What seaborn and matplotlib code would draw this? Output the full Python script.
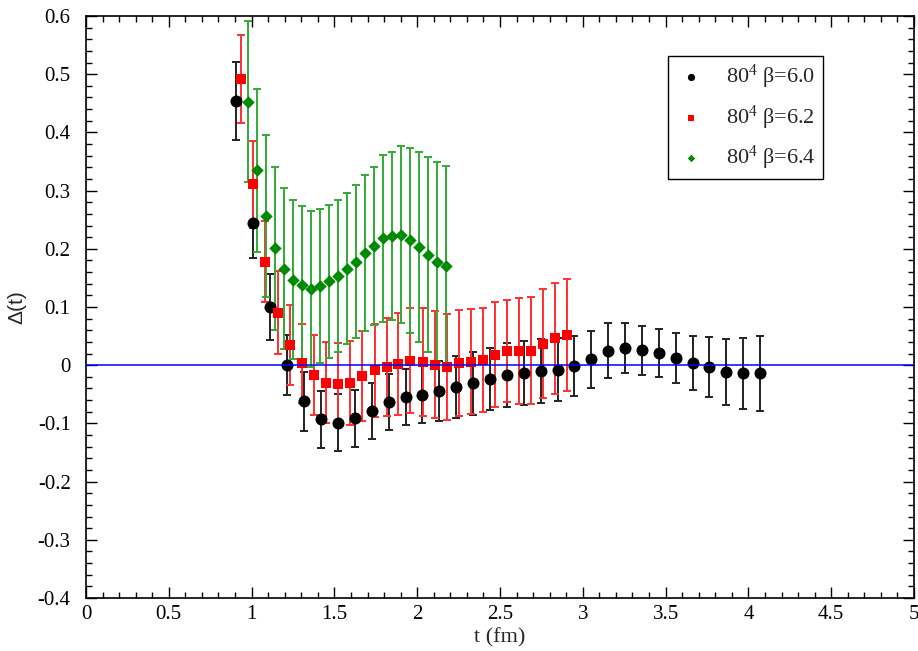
import matplotlib
matplotlib.use("Agg")
import matplotlib.pyplot as plt
import seaborn as sns
import pandas as pd
from matplotlib.ticker import MultipleLocator, FuncFormatter

# ---- data ----
t_60 = [0.906, 1.010, 1.111, 1.214, 1.318, 1.419, 1.522, 1.624, 1.725, 1.828, 1.930,
        2.031, 2.133, 2.234, 2.337, 2.440, 2.542, 2.645, 2.746, 2.849, 2.949, 3.052,
        3.152, 3.255, 3.357, 3.460, 3.563, 3.663, 3.763, 3.866, 3.967, 4.070]
d_60 = [0.454, 0.245, 0.100, 0.000, -0.062, -0.093, -0.099, -0.091, -0.079, -0.063, -0.055,
        -0.051, -0.044, -0.038, -0.031, -0.024, -0.016, -0.013, -0.010, -0.008, -0.001, 0.010,
        0.025, 0.030, 0.026, 0.021, 0.013, 0.004, -0.003, -0.012, -0.014, -0.014]
e_60 = [0.067, 0.060, 0.057, 0.052, 0.051, 0.049, 0.049, 0.049, 0.048, 0.048, 0.048,
        0.049, 0.052, 0.053, 0.054, 0.053, 0.055, 0.055, 0.055, 0.054, 0.052, 0.049,
        0.047, 0.043, 0.042, 0.041, 0.043, 0.046, 0.051, 0.057, 0.061, 0.064]

t_62 = [0.938, 1.010, 1.083, 1.159, 1.230, 1.304, 1.377, 1.449, 1.522, 1.596, 1.669,
        1.743, 1.816, 1.886, 1.958, 2.033, 2.106, 2.178, 2.252, 2.325, 2.396, 2.470,
        2.544, 2.617, 2.689, 2.762, 2.834, 2.906]
d_62 = [0.492, 0.311, 0.178, 0.090, 0.035, 0.003, -0.017, -0.030, -0.033, -0.030, -0.019,
        -0.009, -0.003, 0.002, 0.008, 0.006, 0.001, -0.003, 0.003, 0.006, 0.009, 0.018,
        0.024, 0.024, 0.025, 0.037, 0.046, 0.052]
e_62 = [0.075, 0.075, 0.070, 0.071, 0.069, 0.068, 0.069, 0.070, 0.071, 0.072, 0.077,
        0.080, 0.084, 0.088, 0.090, 0.093, 0.092, 0.091, 0.091, 0.090, 0.090, 0.090,
        0.088, 0.091, 0.092, 0.094, 0.095, 0.096]

t_64 = [0.978, 1.033, 1.087, 1.141, 1.196, 1.250, 1.304, 1.359, 1.413, 1.467, 1.522,
        1.578, 1.632, 1.687, 1.741, 1.795, 1.850, 1.904, 1.958, 2.013, 2.067, 2.122, 2.176]
d_64 = [0.453, 0.335, 0.257, 0.201, 0.166, 0.147, 0.138, 0.131, 0.136, 0.144, 0.153,
        0.166, 0.178, 0.193, 0.205, 0.218, 0.222, 0.224, 0.215, 0.203, 0.190, 0.177, 0.170]
e_64 = [0.138, 0.140, 0.139, 0.140, 0.139, 0.137, 0.135, 0.134, 0.133, 0.132, 0.130,
        0.130, 0.132, 0.134, 0.136, 0.143, 0.145, 0.152, 0.159, 0.163, 0.168, 0.172, 0.173]

labels = [r"80$^4$ β=6.0", r"80$^4$ β=6.2", r"80$^4$ β=6.4"]

# ---- style ----
sns.set_style("ticks")
plt.rcParams['font.family'] = ['Liberation Serif', 'DejaVu Serif']
plt.rcParams['mathtext.fontset'] = 'custom'
plt.rcParams['mathtext.rm'] = 'Liberation Serif'
plt.rcParams['mathtext.it'] = 'Liberation Serif:italic'
plt.rcParams['axes.unicode_minus'] = False

fig = plt.figure(figsize=(9.18, 6.51), dpi=100)
ax = fig.add_axes([86 / 918, 1 - 598 / 651, 828 / 918, 582 / 651])

series = [
    (t_60, d_60, e_60, "black", "#222222", "o", 75, labels[0]),
    (t_62, d_62, e_62, "#ff0000", "#ff3030", "s", 55, labels[1]),
    (t_64, d_64, e_64, "#008a00", "#33aa33", "D", 40, labels[2]),
]

for t, d, e, mc, ec, mk, sz, lab in series:
    ax.errorbar(t, d, yerr=e, fmt='none', ecolor=ec, elinewidth=1.4,
                capsize=3, capthick=1.4, zorder=2)
    df = pd.DataFrame({"t": t, "d": d})
    sns.scatterplot(data=df, x="t", y="d", ax=ax, color=mc, marker=mk, s=sz,
                    linewidth=0, label=lab, zorder=3)

ax.axhline(0, color="#0000ff", lw=1.1, zorder=4)

ax.set_xlim(0, 5)
ax.set_ylim(-0.4, 0.6)
ax.xaxis.set_major_locator(MultipleLocator(0.5))
ax.xaxis.set_minor_locator(MultipleLocator(0.1))
ax.yaxis.set_major_locator(MultipleLocator(0.1))
ax.yaxis.set_minor_locator(MultipleLocator(0.02))
fmt = FuncFormatter(lambda v, p: ("%g" % round(v, 3)) if abs(v) > 1e-9 else "0")
ax.xaxis.set_major_formatter(fmt)
ax.yaxis.set_major_formatter(fmt)
ax.tick_params(which='both', direction='in', top=True, right=True, colors='black',
               labelsize=15)
ax.tick_params(which='major', length=8, width=1)
ax.tick_params(which='minor', length=4, width=1)
ax.tick_params(axis='y', which='major', pad=11)
ax.tick_params(axis='x', which='major', pad=5)
for s in ax.spines.values():
    s.set_color('black')
    s.set_linewidth(1.2)

ax.set_xlabel("t (fm)", fontsize=16)
ax.xaxis.set_label_coords(0.5, -0.051)
ax.set_ylabel("Δ(t)", fontsize=15, family=['Liberation Sans', 'DejaVu Sans'])
ax.yaxis.set_label_coords(-0.072, 0.5)

leg = ax.legend(loc='upper right', bbox_to_anchor=(0.890, 0.931), fontsize=16,
                frameon=True, fancybox=False, edgecolor='black', framealpha=1,
                markerscale=0.6, handletextpad=0.85, handlelength=1.45,
                labelspacing=0.55, borderpad=0.32, borderaxespad=0)
leg.get_frame().set_linewidth(1.0)

fig.savefig("out.png", dpi=100)
